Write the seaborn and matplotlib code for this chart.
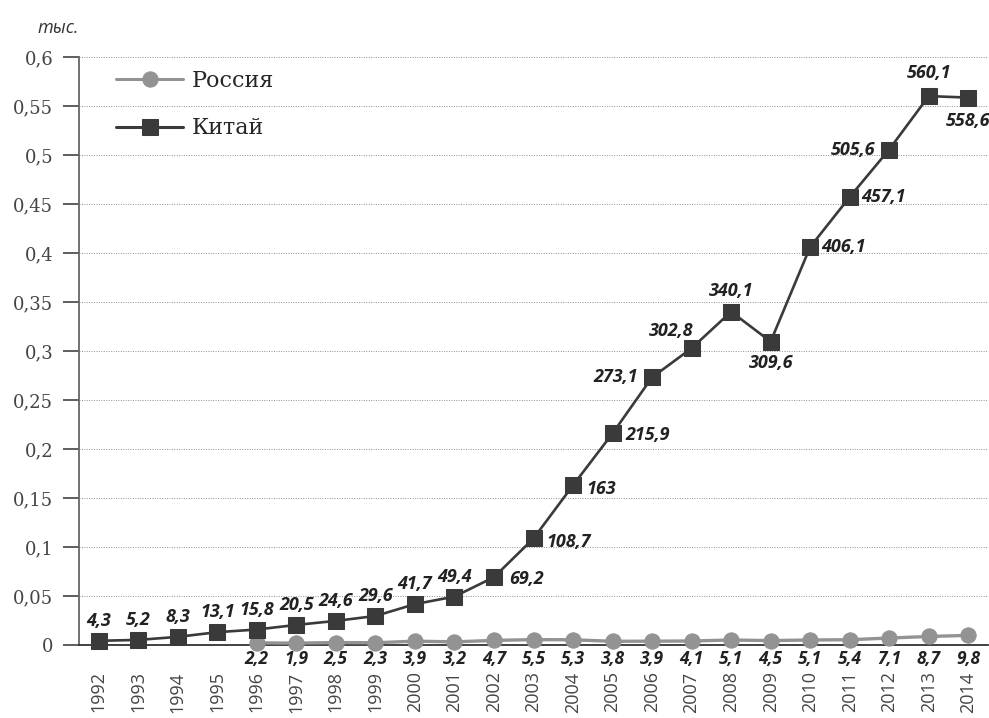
import matplotlib
matplotlib.use("Agg")
import numpy as np
import pandas as pd
import seaborn as sns
import matplotlib.pyplot as plt
from matplotlib.ticker import FixedLocator

years = list(range(1992, 2015))
china = [4.3, 5.2, 8.3, 13.1, 15.8, 20.5, 24.6, 29.6, 41.7, 49.4, 69.2, 108.7,
         163, 215.9, 273.1, 302.8, 340.1, 309.6, 406.1, 457.1, 505.6, 560.1, 558.6]
china_labels = ["4,3", "5,2", "8,3", "13,1", "15,8", "20,5", "24,6", "29,6", "41,7",
                "49,4", "69,2", "108,7", "163", "215,9", "273,1", "302,8", "340,1",
                "309,6", "406,1", "457,1", "505,6", "560,1", "558,6"]
years_ru = list(range(1996, 2015))
russia = [2.2, 1.9, 2.5, 2.3, 3.9, 3.2, 4.7, 5.5, 5.3, 3.8, 3.9, 4.1, 5.1, 4.5,
          5.1, 5.4, 7.1, 8.7, 9.8]
russia_labels = ["2,2", "1,9", "2,5", "2,3", "3,9", "3,2", "4,7", "5,5", "5,3", "3,8",
                 "3,9", "4,1", "5,1", "4,5", "5,1", "5,4", "7,1", "8,7", "9,8"]
yticks = [0, 0.05, 0.1, 0.15, 0.2, 0.25, 0.3, 0.35, 0.4, 0.45, 0.5, 0.55, 0.6]
ytick_labels = ["0", "0,05", "0,1", "0,15", "0,2", "0,25", "0,3", "0,35", "0,4",
                "0,45", "0,5", "0,55", "0,6"]

# label offsets for china values (pixels, dx, dy)
china_offsets = [(0, 20)] * 10 + [(33, -2), (35, -4), (28, -4), (35, -2), (-36, 0),
                                  (-20, 17), (0, 21), (0, -21), (33, 0), (34, 0),
                                  (-36, 0), (0, 23), (0, -23)]

sns.set_style("white")
plt.rcParams["font.family"] = ["DejaVu Serif"]

fig = plt.figure(figsize=(9.89, 7.18), dpi=100)
ax = fig.add_axes([79 / 989, 1 - 645 / 718, 909 / 989, 588 / 718])

ru_color = "#939393"
cn_color = "#3a3a3a"

ru_df = pd.DataFrame({"year": years_ru, "val": np.array(russia) / 1000})
cn_df = pd.DataFrame({"year": years, "val": np.array(china) / 1000})

sns.lineplot(ax=ax, data=ru_df, x="year", y="val", color=ru_color, linewidth=2.4,
             marker="o", markersize=11, markeredgecolor=ru_color, label="Россия",
             clip_on=False, zorder=3)
sns.lineplot(ax=ax, data=cn_df, x="year", y="val", color=cn_color, linewidth=1.9,
             marker="s", markersize=11.5, markeredgecolor=cn_color, label="Китай",
             clip_on=False, zorder=4)

ax.set_xlim(1991.5, 2014.5)
ax.set_ylim(0, 0.6)
ax.set_xticks(years)
ax.set_xticklabels([str(y) for y in years], rotation=90, family="Open Sans",
                   fontsize=13, color="#444444")
ax.xaxis.set_minor_locator(FixedLocator(np.arange(1992.5, 2014.6, 1)))
ax.tick_params(axis="x", which="major", length=0, pad=19)
ax.tick_params(axis="x", which="minor", length=11, width=1.1, color="#333333",
               direction="out")
ax.set_yticks(yticks)
ax.set_yticklabels(ytick_labels, fontsize=13, color="#444444")
ax.tick_params(axis="y", which="major", length=11.5, width=1.1, color="#333333",
               direction="out", pad=7, left=True)
ax.set_xlabel("")
ax.set_ylabel("")

ax.grid(axis="y", linestyle=(0, (1, 1.5)), color="#909090", linewidth=0.7)
ax.grid(axis="x", visible=False)
ax.set_axisbelow(True)
for s in ["top", "right"]:
    ax.spines[s].set_visible(False)
ax.spines["left"].set_color("#666666")
ax.spines["left"].set_linewidth(1.3)
ax.spines["bottom"].set_color("#333333")
ax.spines["bottom"].set_linewidth(1.3)

lab_font = dict(family="Open Sans", fontweight="bold", fontstyle="italic",
                fontsize=13, color="#222222")
for x, v, t, (dx, dy) in zip(years, china, china_labels, china_offsets):
    ax.annotate(t, (x, v / 1000), xytext=(dx * 0.72, dy * 0.72),
                textcoords="offset points", ha="center", va="center", **lab_font)
ru_font = dict(lab_font, fontsize=12.5)
for x, t in zip(years_ru, russia_labels):
    ax.annotate(t, (x, 0), xytext=(0, -14 * 0.72), textcoords="offset points",
                ha="center", va="center", annotation_clip=False, **ru_font)

leg = ax.legend(loc="upper left", bbox_to_anchor=(0.019, 1.012), frameon=False,
                fontsize=16, handlelength=3.0, labelspacing=1.15, handletextpad=0.4)
for h in leg.legend_handles:
    h.set_linewidth(2.2)

fig.text(37 / 989, 1 - 28 / 718, "тыс.", family="Open Sans", fontstyle="italic",
         fontsize=13, color="#333333", va="center", ha="left")

fig.savefig("out.png", dpi=100)
